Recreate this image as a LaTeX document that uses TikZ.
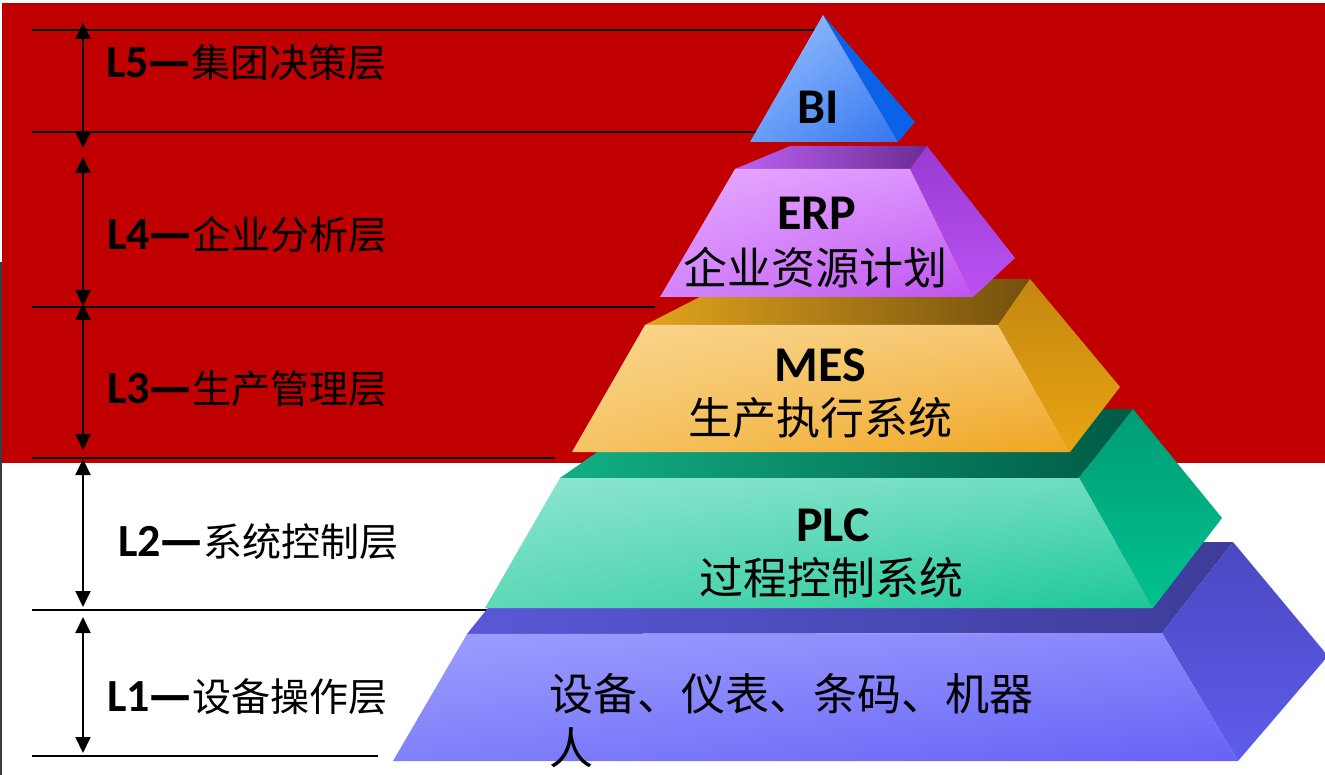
\documentclass[tikz,border=0pt]{standalone}
\usepackage{fontspec}
\setmainfont{Carlito}
\newfontfamily\cjk{Noto Sans CJK SC}
\usetikzlibrary{arrows.meta,shadings}
\definecolor{redbg}{HTML}{C00000}
\definecolor{edgegray}{HTML}{3C3C3C}
% L1 (blue-violet)
\definecolor{aTopL}{HTML}{5A58D8}\definecolor{aTopR}{HTML}{3E3C98}
\definecolor{aSideT}{HTML}{4A48C0}\definecolor{aSideB}{HTML}{5E5CEC}
\definecolor{aUL}{HTML}{9E9EFF}\definecolor{aUR}{HTML}{8886FA}
\definecolor{aLL}{HTML}{8080FA}\definecolor{aLR}{HTML}{6662F6}
% PLC (green)
\definecolor{bTopL}{HTML}{12B084}\definecolor{bTopR}{HTML}{005A44}
\definecolor{bSideT}{HTML}{009C76}\definecolor{bSideB}{HTML}{00C28E}
\definecolor{bUL}{HTML}{8EE6D0}\definecolor{bUR}{HTML}{6CDCBE}
\definecolor{bLL}{HTML}{5ED8B6}\definecolor{bLR}{HTML}{1CC896}
% MES (orange)
\definecolor{cTopL}{HTML}{E2A41E}\definecolor{cTopR}{HTML}{74500E}
\definecolor{cSideT}{HTML}{C48810}\definecolor{cSideB}{HTML}{E8A412}
\definecolor{cUL}{HTML}{F9D68E}\definecolor{cUR}{HTML}{F6C670}
\definecolor{cLL}{HTML}{F6C466}\definecolor{cLR}{HTML}{EFA622}
% ERP (violet)
\definecolor{dTopL}{HTML}{BC62F2}\definecolor{dTopR}{HTML}{6C2C92}
\definecolor{dSideT}{HTML}{9A3AD2}\definecolor{dSideB}{HTML}{BA52F2}
\definecolor{dUL}{HTML}{E8AAFF}\definecolor{dUR}{HTML}{D890FC}
\definecolor{dLL}{HTML}{D286FA}\definecolor{dLR}{HTML}{C052F0}
% BI (blue)
\definecolor{eSide}{HTML}{0A62E8}
\definecolor{eUL}{HTML}{9CC4FF}\definecolor{eUR}{HTML}{6CA2F8}
\definecolor{eLL}{HTML}{6A9EF6}\definecolor{eLR}{HTML}{3476F0}
\newcommand{\lvltext}[2]{{\fontsize{46}{46}\selectfont\bfseries #1}{\cjk\bfseries\fontsize{46}{46}\selectfont —}{\cjk\fontsize{39}{39}\selectfont #2}}
\begin{document}
\begin{tikzpicture}[x=1pt,y=-1pt,
  hline/.style={line width=2pt, black},
  dimarrow/.style={line width=2pt, black, {Triangle[width=15pt,length=16pt]}-{Triangle[width=15pt,length=16pt]}},
  lvl/.style={anchor=west, inner sep=0pt, text=black},
  tag/.style={inner sep=0pt, text=black, font=\fontsize{50}{50}\selectfont\bfseries},
  cn/.style={inner sep=0pt, text=black, font=\cjk\fontsize{44}{44}\selectfont},
]
\useasboundingbox (0,0) rectangle (1325,775);
\fill[white] (0,0) rectangle (1325,775);
\fill[redbg] (2,3) rectangle (1325,463);
\fill[edgegray] (0,262) rectangle (2,775);

% horizontal level lines
\coordinate (h1a) at (32,30);  \coordinate (h1b) at (816,30);
\coordinate (h2a) at (32,132); \coordinate (h2b) at (758,132);
\coordinate (h3a) at (32,307); \coordinate (h3b) at (655,307);
\coordinate (h4a) at (32,458); \coordinate (h4b) at (555,458);
\coordinate (h5a) at (32,610); \coordinate (h5b) at (487,610);
\coordinate (h6a) at (32,756); \coordinate (h6b) at (378,756);
\foreach \i in {1,...,6} \draw[hline] (h\i a) -- (h\i b);

% dimension arrows
\coordinate (a5t) at (83,23);  \coordinate (a5b) at (83,148);
\coordinate (a4t) at (83,157); \coordinate (a4b) at (83,306);
\coordinate (a3t) at (83,304); \coordinate (a3b) at (83,450);
\coordinate (a2t) at (83,459); \coordinate (a2b) at (83,607);
\coordinate (a1t) at (83,617); \coordinate (a1b) at (83,753);
\foreach \i in {1,...,5} \draw[dimarrow] (a\i t) -- (a\i b);

% level labels
\node[lvl] (lab5) at (106,63) {\lvltext{L5}{集团决策层}};
\node[lvl] (lab4) at (107,235) {\lvltext{L4}{企业分析层}};
\node[lvl] (lab3) at (107,389) {\lvltext{L3}{生产管理层}};
\node[lvl] (lab2) at (118,542) {\lvltext{L2}{系统控制层}};
\node[lvl] (lab1) at (107,697) {\lvltext{L1}{设备操作层}};

% ---- layer L1 ----
\coordinate (aFL) at (467,634); \coordinate (aFR) at (1162,633);
\coordinate (aBL) at (541,542); \coordinate (aBR) at (1233,542);
\coordinate (aDL) at (393,761); \coordinate (aDR) at (1238,761);
\coordinate (aT) at (1328,656);
\shade[left color=aTopL, right color=aTopR] (aFL) -- (aBL) -- (aBR) -- (aFR) -- cycle;
\shade[top color=aSideT, bottom color=aSideB] (aFR) -- (aBR) -- (aT) -- (aDR) -- cycle;
\shade[upper left=aUL, upper right=aUR, lower left=aLL, lower right=aLR] (aFL) -- (aFR) -- (aDR) -- (aDL) -- cycle;

% ---- layer PLC ----
\coordinate (bFL) at (560,478); \coordinate (bFR) at (1079,478);
\coordinate (bBL) at (659,409); \coordinate (bBR) at (1133,409);
\coordinate (bDL) at (485,608); \coordinate (bDR) at (1153,608);
\coordinate (bT) at (1222,518);
\shade[left color=bTopL, right color=bTopR] (bFL) -- (bBL) -- (bBR) -- (bFR) -- cycle;
\shade[top color=bSideT, bottom color=bSideB] (bFR) -- (bBR) -- (bT) -- (bDR) -- cycle;
\shade[upper left=bUL, upper right=bUR, lower left=bLL, lower right=bLR] (bFL) -- (bFR) -- (bDR) -- (bDL) -- cycle;

% ---- layer MES ----
\coordinate (cFL) at (645,325); \coordinate (cFR) at (998,325);
\coordinate (cBL) at (735,279); \coordinate (cBR) at (1030,279);
\coordinate (cDL) at (572,452); \coordinate (cDR) at (1070,452);
\coordinate (cT) at (1120,387);
\shade[left color=cTopL, right color=cTopR] (cFL) -- (cBL) -- (cBR) -- (cFR) -- cycle;
\shade[top color=cSideT, bottom color=cSideB] (cFR) -- (cBR) -- (cT) -- (cDR) -- cycle;
\shade[upper left=cUL, upper right=cUR, lower left=cLL, lower right=cLR] (cFL) -- (cFR) -- (cDR) -- (cDL) -- cycle;

% ---- layer ERP ----
\coordinate (dFL) at (735,169); \coordinate (dFR) at (910,169);
\coordinate (dBL) at (790,146); \coordinate (dBR) at (927,146);
\coordinate (dDL) at (660,297); \coordinate (dDR) at (973,297);
\coordinate (dT) at (1015,258);
\shade[left color=dTopL, right color=dTopR] (dFL) -- (dBL) -- (dBR) -- (dFR) -- cycle;
\shade[top color=dSideT, bottom color=dSideB] (dFR) -- (dBR) -- (dT) -- (dDR) -- cycle;
\shade[upper left=dUL, upper right=dUR, lower left=dLL, lower right=dLR] (dFL) -- (dFR) -- (dDR) -- (dDL) -- cycle;

% ---- BI ----
\coordinate (eA) at (823,15);
\coordinate (eDL) at (750,142); \coordinate (eDR) at (898,142);
\coordinate (eT) at (915,122);
\fill[eSide] (eA) -- (eT) -- (eDR) -- cycle;
\shade[upper left=eUL, upper right=eUR, lower left=eLL, lower right=eLR] (eA) -- (eDR) -- (eDL) -- cycle;

% pyramid texts
\node[tag] (bi) at (818,107) {BI};
\node[tag] (erp) at (817,213) {ERP};
\node[cn] (erpcn) at (815,268) {企业资源计划};
\node[tag] (mes) at (820,365) {MES};
\node[cn] (mescn) at (820,418) {生产执行系统};
\node[tag] (plc) at (833,525) {PLC};
\node[cn] (plccn) at (831,578) {过程控制系统};
\node[cn, anchor=north west, align=left, font=\cjk\fontsize{44}{54}\selectfont] (dev) at (549,673) {设备、仪表、条码、机器\\人};
\end{tikzpicture}
\end{document}
